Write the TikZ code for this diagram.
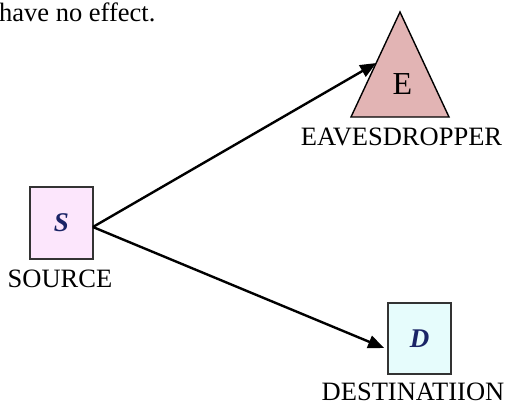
\documentclass[tikz,border=0pt]{standalone}
\usepackage{fontspec}
\setmainfont{Liberation Serif}
\usetikzlibrary{arrows.meta,calc}
\definecolor{srcfill}{HTML}{FCE6FC}
\definecolor{dstfill}{HTML}{E6FCFC}
\definecolor{evefill}{HTML}{E2B4B4}
\definecolor{edgegray}{HTML}{333333}
\definecolor{letterblue}{HTML}{1A2466}
\begin{document}
\begin{tikzpicture}[x=1pt,y=-1pt,
  lbl/.style={font=\fontsize{26.5}{31}\selectfont, anchor=base, inner sep=0pt},
  termbox/.style={draw=edgegray, line width=1.8pt, minimum width=63pt, minimum height=72pt,
    inner sep=0pt, font=\fontsize{27}{31}\selectfont\bfseries\itshape, text=letterblue},
  link/.style={line width=2.4pt, -{Triangle[length=16pt,width=13pt]}}]
\useasboundingbox (0,0) rectangle (506,405);

% top-left text fragment
\node[lbl, anchor=base west] (note) at (-1,21) {have no effect.};

% source terminal
\node[termbox, fill=srcfill] (src) at (61.5,223) {S};
\node[lbl] (srclbl) at (60,287) {SOURCE};

% destination terminal
\node[termbox, fill=dstfill, minimum height=71pt] (dst) at (419.5,338.5) {D};
\node[lbl] (dstlbl) at (413,400) {DESTINATIION};

% eavesdropper triangle
\coordinate (eapex) at (400,12);
\coordinate (eleft) at (351,117);
\coordinate (eright) at (449,117);
\draw[draw=black, line width=1.4pt, fill=evefill, line join=miter] (eapex) -- (eleft) -- (eright) -- cycle;
\node[lbl, font=\fontsize{32}{36}\selectfont] (eve) at (402.5,94) {E};
\node[lbl] (evelbl) at (401.5,145) {EAVESDROPPER};
\coordinate (etip) at ($(eapex)!0.486!(eleft)$);

% links
\coordinate (start) at ([xshift=-1pt,yshift=-4pt]src.east);
\draw[link] (start) -- (etip);
\draw[link] (start) -- ([xshift=-3pt,yshift=-9.5pt]dst.west);
\end{tikzpicture}
\end{document}
